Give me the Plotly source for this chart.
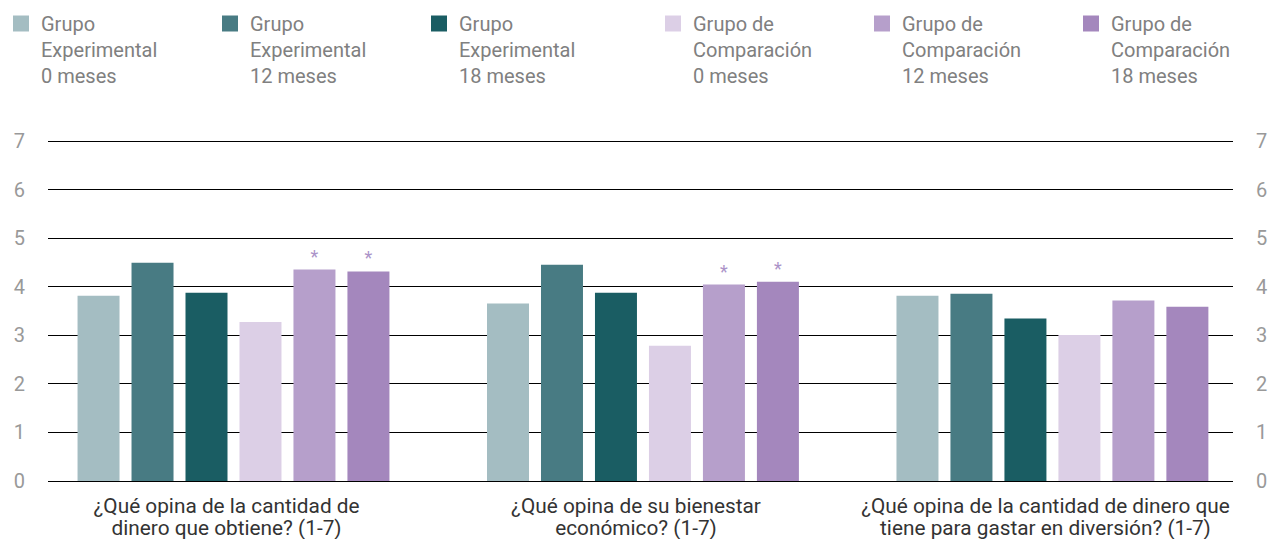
import plotly.graph_objects as go

categories = [
    "¿Qué opina de la cantidad de<br>dinero que obtiene? (1-7)",
    "¿Qué opina de su bienestar<br>económico? (1-7)",
    "¿Qué opina de la cantidad de dinero que<br>tiene para gastar en diversión? (1-7)",
]
series_names = [
    "Grupo<br>Experimental<br>0 meses",
    "Grupo<br>Experimental<br>12 meses",
    "Grupo<br>Experimental<br>18 meses",
    "Grupo de<br>Comparación<br>0 meses",
    "Grupo de<br>Comparación<br>12 meses",
    "Grupo de<br>Comparación<br>18 meses",
]
exp_0 = [3.82, 3.66, 3.82]
exp_12 = [4.50, 4.46, 3.86]
exp_18 = [3.88, 3.88, 3.35]
comp_0 = [3.28, 2.79, 3.01]
comp_12 = [4.36, 4.05, 3.72]
comp_18 = [4.32, 4.11, 3.59]
# significance markers (*) per series per category
sig_comp_12 = [True, True, False]
sig_comp_18 = [True, True, False]

values = [exp_0, exp_12, exp_18, comp_0, comp_12, comp_18]
sigs = [None, None, None, None, sig_comp_12, sig_comp_18]
colors = ["#a4bdc2", "#487b83", "#1a5d63", "#dccfe6", "#b69fcb", "#a487bd"]
legends = ["legend", "legend", "legend", "legend2", "legend2", "legend2"]
y_ticks = [0, 1, 2, 3, 4, 5, 6, 7]

FONT = "Roboto"
x_pos = list(range(len(categories)))
cat_line1 = [c.split("<br>")[0] for c in categories]
cat_line2 = [c.split("<br>")[1] for c in categories]
LABEL_SHIFT = -0.017  # category labels sit slightly left of the bar groups
label_pos = [p + LABEL_SHIFT for p in x_pos]

# the page body adds an 8px margin, so the figure is sized to fit the window
W, H = 1269, 531
ML, MR, MT, MB = 40, 44, 132, 58
PW = W - ML - MR
PH = H - MT - MB

fig = go.Figure()
for i, (name, vals, col) in enumerate(zip(series_names, values, colors)):
    sig = sigs[i]
    fig.add_trace(go.Bar(
        x=x_pos, y=vals, name=name, marker=dict(color=col, line=dict(width=0)),
        showlegend=False, offsetgroup=str(i),
        text=[("*" if (sig and sig[j]) else "") for j in range(len(vals))],
        textposition="outside", cliponaxis=False,
        textfont=dict(family=FONT, size=18, color="#ab93c8"),
        hoverinfo="skip",
    ))
    # legend proxy
    fig.add_trace(go.Scatter(
        x=[None], y=[None], mode="markers", name=name,
        marker=dict(symbol="square", size=18, color=col),
        legend=legends[i], showlegend=True,
    ))

# invisible traces for the auxiliary axes
fig.add_trace(go.Scatter(x=[None], y=[None], yaxis="y2", showlegend=False))
fig.add_trace(go.Scatter(x=[None], y=[None], xaxis="x2", showlegend=False))

legend_common = dict(
    orientation="h", xref="paper", yref="paper", yanchor="top", xanchor="left",
    valign="top", font=dict(family=FONT, size=20, color="#808080"),
    entrywidthmode="pixels", entrywidth=164, itemclick=False,
    bgcolor="rgba(0,0,0,0)", tracegroupgap=0,
)
leg_y = 1 + (MT + 4) / PH

x_range = [-0.453, 2.441]
fig.update_layout(
    width=W, height=H,
    margin=dict(l=ML, r=MR, t=MT, b=MB, autoexpand=False),
    paper_bgcolor="white", plot_bgcolor="white",
    barmode="group", bargap=0.209, bargroupgap=0.222,
    legend=dict(x=(-7 - ML) / PW, y=leg_y, **legend_common),
    legend2=dict(x=(645 - ML) / PW, y=leg_y, **legend_common),
    xaxis=dict(
        range=x_range, tickmode="array", tickvals=label_pos, ticktext=cat_line1,
        showgrid=False, zeroline=False, showline=False, ticks="", ticklabelstandoff=10,
        tickfont=dict(family=FONT, size=20.8, color="#333333"),
    ),
    xaxis2=dict(
        range=x_range, tickmode="array", tickvals=label_pos, ticktext=cat_line2,
        overlaying="x", anchor="y", side="bottom",
        showgrid=False, zeroline=False, showline=False, ticks="", ticklabelstandoff=32,
        tickfont=dict(family=FONT, size=20.8, color="#333333"),
    ),
    yaxis=dict(
        range=[0, 7.03], tickmode="array", tickvals=y_ticks,
        showgrid=True, gridcolor="#000000", gridwidth=1,
        zeroline=True, zerolinecolor="#000000", zerolinewidth=1,
        showline=False, ticks="", ticklabelstandoff=22,
        tickfont=dict(family=FONT, size=20, color="#999999"),
    ),
    yaxis2=dict(
        range=[0, 7.03], tickmode="array", tickvals=y_ticks, overlaying="y", side="right",
        showgrid=False, zeroline=False, showline=False, ticks="", ticklabelstandoff=22,
        tickfont=dict(family=FONT, size=20, color="#999999"),
    ),
    showlegend=True,
)

fig.write_html("out.html")
